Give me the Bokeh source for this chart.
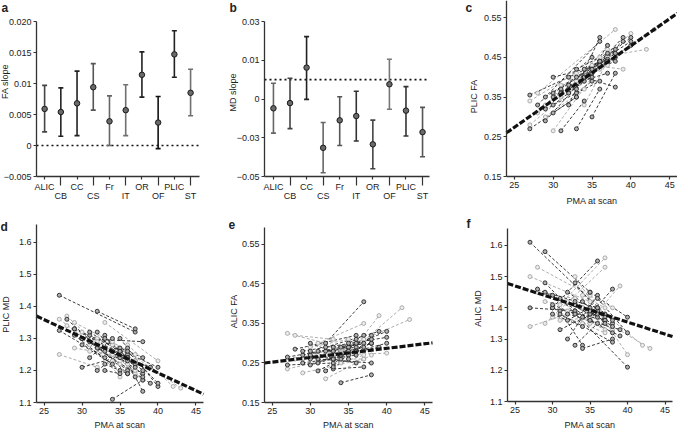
from bokeh.plotting import figure
from bokeh.layouts import row, column
from bokeh.models import Range1d, FixedTicker, Label, LinearAxis
from bokeh.embed import file_html
from bokeh.resources import INLINE
import math

FONT = "Liberation Sans"
TXT = "#222222"
AX = "#333333"

# ---------------- data: panels a, b ----------------
regions = ["ALIC", "CB", "CC", "CS", "Fr", "IT", "OR", "OF", "PLIC", "ST"]
cat_pos = [1, 2, 3, 4, 5, 6, 7, 8, 9, 10]

fa_slope = [0.0059, 0.0054, 0.0068, 0.0094, 0.0039, 0.0057, 0.0114, 0.0037, 0.0147, 0.0085]
fa_lo = [0.0022, 0.0015, 0.0016, 0.0057, 0.0000, 0.0016, 0.0078, -0.0005, 0.0110, 0.0048]
fa_hi = [0.0097, 0.0093, 0.0120, 0.0132, 0.0080, 0.0098, 0.0151, 0.0079, 0.0185, 0.0123]
fa_col = ["#444444", "#222222", "#222222", "#555555", "#666666", "#707070", "#222222", "#111111", "#222222", "#707070"]

md_slope = [-0.0148, -0.0121, 0.0062, -0.0352, -0.0210, -0.0188, -0.0334, -0.0024, -0.0160, -0.0271]
md_lo = [-0.0276, -0.0253, -0.0102, -0.0481, -0.0340, -0.0317, -0.0460, -0.0153, -0.0291, -0.0398]
md_hi = [-0.0019, 0.0007, 0.0222, -0.0221, -0.0088, -0.0060, -0.0209, 0.0105, -0.0036, -0.0143]
md_col = ["#666666", "#444444", "#222222", "#666666", "#555555", "#333333", "#444444", "#777777", "#333333", "#555555"]

fa_ticks = [-0.005, 0.0, 0.005, 0.01, 0.015, 0.02]
fa_tick_labels = ["\u22120.005", "0", "0.005", "0.01", "0.015", "0.020"]
md_ticks = [-0.05, -0.03, -0.01, 0.01, 0.03]
md_tick_labels = ["\u22120.05", "\u22120.03", "0", "0.01", "0.03"]

# ---------------- data: panels c-f (subjects, two scans each) ----------------
scan1 = [27, 27, 27, 28, 28, 29, 29, 29, 30, 30, 30, 31, 31, 31, 32, 32, 32, 33,
         33, 33, 34, 34, 34, 35, 35, 35, 36, 36, 30, 28, 32, 34, 27, 31, 33, 29,
         30, 31, 32, 33, 34, 35, 36, 29, 31, 33, 32, 34, 30, 35]
scan2 = [37, 35, 33, 36, 38, 35, 37, 40, 36, 35, 38, 36, 37, 34, 37, 38, 36, 37,
         40, 36, 38, 37, 43, 38, 40, 39, 40, 42, 34, 33, 35, 36, 32, 38, 35, 34,
         37, 35, 37, 38, 39, 37, 38, 36, 36, 38, 39, 37, 33, 37]
subj_shade = ["k", "g", "k", "k", "g", "k", "g", "k", "k", "g", "k", "k", "g", "k", "k", "g", "k", "k",
              "g", "k", "k", "g", "g", "k", "k", "g", "k", "g", "k", "g", "k", "k", "g", "k", "k", "g",
              "k", "k", "g", "k", "k", "g", "k", "k", "g", "k", "k", "g", "k", "k"]

plic_fa1 = [0.355, 0.28, 0.27, 0.33, 0.36, 0.29, 0.33, 0.35, 0.40, 0.265, 0.36, 0.37, 0.35, 0.265, 0.38, 0.36, 0.33, 0.42,
            0.39, 0.27, 0.40, 0.33, 0.40, 0.30, 0.41, 0.43, 0.44, 0.45, 0.33, 0.31, 0.40, 0.42, 0.34, 0.36, 0.36, 0.30,
            0.35, 0.36, 0.38, 0.37, 0.40, 0.41, 0.43, 0.32, 0.38, 0.40, 0.36, 0.39, 0.31, 0.42]
plic_fa2 = [0.445, 0.41, 0.35, 0.49, 0.52, 0.42, 0.45, 0.49, 0.43, 0.40, 0.46, 0.44, 0.48, 0.34, 0.41, 0.47, 0.50, 0.46,
            0.51, 0.37, 0.375, 0.44, 0.52, 0.41, 0.48, 0.42, 0.50, 0.47, 0.39, 0.41, 0.45, 0.44, 0.40, 0.45, 0.39, 0.37,
            0.44, 0.40, 0.47, 0.47, 0.49, 0.43, 0.46, 0.39, 0.42, 0.44, 0.50, 0.45, 0.35, 0.48]

plic_md1 = [1.435, 1.36, 1.325, 1.36, 1.34, 1.31, 1.35, 1.33, 1.21, 1.32, 1.30, 1.29, 1.26, 1.24, 1.385, 1.30, 1.20, 1.31,
            1.35, 1.22, 1.11, 1.28, 1.29, 1.27, 1.30, 1.24, 1.26, 1.28, 1.28, 1.37, 1.32, 1.26, 1.25, 1.31, 1.20, 1.27,
            1.30, 1.32, 1.29, 1.27, 1.26, 1.25, 1.24, 1.33, 1.28, 1.30, 1.27, 1.23, 1.30, 1.26]
plic_md2 = [1.32, 1.22, 1.24, 1.19, 1.17, 1.20, 1.25, 1.21, 1.25, 1.18, 1.29, 1.20, 1.23, 1.30, 1.33, 1.17, 1.27, 1.18,
            1.23, 1.19, 1.17, 1.23, 1.145, 1.135, 1.15, 1.21, 1.16, 1.15, 1.22, 1.26, 1.24, 1.23, 1.21, 1.24, 1.19, 1.25,
            1.22, 1.26, 1.20, 1.19, 1.21, 1.19, 1.18, 1.24, 1.22, 1.20, 1.16, 1.20, 1.26, 1.21]

alic_fa1 = [0.265, 0.235, 0.245, 0.285, 0.26, 0.27, 0.225, 0.28, 0.27, 0.29, 0.245, 0.25, 0.30, 0.23, 0.30, 0.21, 0.28, 0.235,
            0.27, 0.26, 0.20, 0.26, 0.285, 0.275, 0.29, 0.27, 0.28, 0.29, 0.30, 0.32, 0.23, 0.29, 0.325, 0.26, 0.24, 0.26,
            0.26, 0.28, 0.27, 0.29, 0.27, 0.26, 0.28, 0.25, 0.27, 0.28, 0.29, 0.25, 0.28, 0.30]
alic_fa2 = [0.30, 0.27, 0.25, 0.32, 0.31, 0.29, 0.26, 0.315, 0.25, 0.31, 0.30, 0.28, 0.35, 0.26, 0.405, 0.27, 0.29, 0.24,
            0.275, 0.30, 0.22, 0.28, 0.36, 0.30, 0.33, 0.37, 0.30, 0.39, 0.27, 0.31, 0.27, 0.31, 0.30, 0.25, 0.26, 0.275,
            0.29, 0.28, 0.31, 0.30, 0.29, 0.26, 0.32, 0.27, 0.29, 0.31, 0.33, 0.27, 0.26, 0.32]

alic_md1 = [1.61, 1.50, 1.40, 1.46, 1.53, 1.58, 1.35, 1.48, 1.40, 1.37, 1.44, 1.33, 1.41, 1.39, 1.45, 1.42, 1.30, 1.48,
            1.50, 1.28, 1.27, 1.44, 1.40, 1.38, 1.45, 1.36, 1.43, 1.40, 1.38, 1.45, 1.36, 1.42, 1.34, 1.38, 1.39, 1.42,
            1.40, 1.43, 1.39, 1.41, 1.37, 1.44, 1.40, 1.45, 1.36, 1.42, 1.38, 1.35, 1.41, 1.39]
alic_md2 = [1.38, 1.42, 1.39, 1.37, 1.40, 1.45, 1.53, 1.21, 1.55, 1.35, 1.32, 1.39, 1.56, 1.28, 1.37, 1.33, 1.44, 1.36,
            1.25, 1.35, 1.30, 1.40, 1.27, 1.46, 1.37, 1.47, 1.32, 1.28, 1.34, 1.43, 1.40, 1.38, 1.38, 1.29, 1.36, 1.40,
            1.36, 1.38, 1.33, 1.35, 1.31, 1.38, 1.36, 1.40, 1.37, 1.34, 1.33, 1.32, 1.38, 1.35]

fit_x = [24, 46]
plic_fa_fit = [0.26, 0.561]
plic_md_fit = [1.37, 1.126]
alic_fa_fit = [0.25, 0.301]
alic_md_fit = [1.478, 1.308]

pma_ticks = [25, 30, 35, 40, 45]
fa_val_ticks = [0.15, 0.25, 0.35, 0.45, 0.55]
md_val_ticks = [1.1, 1.2, 1.3, 1.4, 1.5, 1.6]

SHADE = {"k": "#262626", "g": "#a4a4a4"}
SHADE_FILL = {"k": "#b0b0b0", "g": "#ececec"}


# ---------------- geometry helper ----------------
class Geom:
    """Figure of W x H px whose plotting region (box L..R, T..B in px) shows xr x yr.
    The Bokeh frame covers the whole figure; axes sit at fixed locations on the region's edges."""

    def __init__(self, W, H, L, R, T, B, xr, yr):
        self.W, self.H, self.L, self.R, self.T, self.B = W, H, L, R, T, B
        self.xr, self.yr = xr, yr
        self.sx = (xr[1] - xr[0]) / float(R - L)
        self.sy = (yr[1] - yr[0]) / float(B - T)
        self.full_x = (xr[0] - L * self.sx, xr[1] + (W - R) * self.sx)
        self.full_y = (yr[0] - (H - B) * self.sy, yr[1] + T * self.sy)

    def X(self, fx):
        return self.xr[0] + (fx - self.L) * self.sx

    def Y(self, fy):
        return self.yr[1] - (fy - self.T) * self.sy


def make_fig(g, x_axis=True):
    kw = {}
    if not x_axis:
        kw["x_axis_type"] = None
    p = figure(width=g.W, height=g.H, x_range=Range1d(*g.full_x), y_range=Range1d(*g.full_y),
               output_backend="svg", toolbar_location=None,
               min_border_left=0, min_border_right=0, min_border_top=0, min_border_bottom=0, **kw)
    p.outline_line_color = None
    p.grid.visible = False
    p.background_fill_color = "white"
    p.border_fill_color = "white"
    return p


def style_axis(ax):
    ax.axis_line_color = AX
    ax.axis_line_width = 1.3
    ax.major_tick_line_color = AX
    ax.major_tick_line_width = 1.2
    ax.major_tick_out = 3
    ax.major_tick_in = 0
    ax.minor_tick_line_color = None
    ax.major_label_text_font = FONT
    ax.major_label_text_font_size = "9px"
    ax.major_label_text_color = TXT
    ax.major_label_standoff = 2


def put_text(p, g, txt, fx, fy, size="9px", bold=False, angle=0.0, align="center", baseline="middle"):
    p.add_layout(Label(x=g.X(fx), y=g.Y(fy), text=txt,
                       text_font=FONT, text_font_size=size, text_color=TXT,
                       text_font_style="bold" if bold else "normal",
                       text_align=align, text_baseline=baseline, angle=angle))


def slope_panel(g, vals, lo, hi, cols, ticks, tick_labels, letter, ylab, ylab_y):
    p = make_fig(g, x_axis=False)
    yax = p.yaxis[0]
    style_axis(yax)
    yax.ticker = FixedTicker(ticks=ticks)
    yax.major_label_overrides = {t: s for t, s in zip(ticks, tick_labels)}
    yax.fixed_location = g.xr[0]
    yax.bounds = g.yr

    odd = [c for i, c in enumerate(cat_pos) if i % 2 == 0]
    even = [c for i, c in enumerate(cat_pos) if i % 2 == 1]
    ax1 = LinearAxis(ticker=FixedTicker(ticks=odd),
                     major_label_overrides={c: regions[c - 1] for c in odd})
    style_axis(ax1)
    ax1.fixed_location = g.yr[0]
    ax1.bounds = g.xr
    ax2 = LinearAxis(ticker=FixedTicker(ticks=even),
                     major_label_overrides={c: regions[c - 1] for c in even})
    style_axis(ax2)
    ax2.axis_line_color = None
    ax2.major_tick_out = 9
    ax2.major_label_standoff = 5
    ax2.fixed_location = g.yr[0]
    ax2.bounds = g.xr
    p.add_layout(ax1, "below")
    p.add_layout(ax2, "below")

    # dotted zero reference line across the plotting region
    p.segment(x0=[g.xr[0]], y0=[0], x1=[g.xr[1]], y1=[0], line_color="#111111", line_width=1.6, line_dash="2 3")
    p.segment(x0=cat_pos, y0=lo, x1=cat_pos, y1=hi, line_color=cols, line_width=1.6)
    p.scatter(x=cat_pos, y=lo, marker="dash", size=5, line_color=cols, line_width=1.6)
    p.scatter(x=cat_pos, y=hi, marker="dash", size=5, line_color=cols, line_width=1.6)
    p.scatter(x=cat_pos, y=vals, marker="circle", size=5.5, fill_color="#6a6a6a", line_color="#1a1a1a", line_width=1)

    put_text(p, g, letter, 1, 0, size="12px", bold=True, align="left", baseline="top")
    put_text(p, g, ylab, 4, ylab_y, angle=math.pi / 2)
    return p


def spaghetti_panel(g, v1, v2, fit, yticks, letter, lx, ly, ylab, ylab_x, ylab_y, xlab_y):
    p = make_fig(g)
    xax = p.xaxis[0]
    yax = p.yaxis[0]
    style_axis(xax)
    style_axis(yax)
    xax.ticker = FixedTicker(ticks=pma_ticks)
    yax.ticker = FixedTicker(ticks=yticks)
    xax.fixed_location = g.yr[0]
    xax.bounds = g.xr
    yax.fixed_location = g.xr[0]
    yax.bounds = g.yr

    xs = [[a, b] for a, b in zip(scan1, scan2)]
    ys = [[a, b] for a, b in zip(v1, v2)]
    order = sorted(range(len(xs)), key=lambda i: 0 if subj_shade[i] == "g" else 1)
    p.multi_line(xs=[xs[i] for i in order], ys=[ys[i] for i in order],
                 line_color=[SHADE[subj_shade[i]] for i in order], line_width=0.9, line_dash="3 2")
    px = [x for i in order for x in xs[i]]
    py = [y for i in order for y in ys[i]]
    pc = [SHADE[subj_shade[i]] for i in order for _ in range(2)]
    pf = [SHADE_FILL[subj_shade[i]] for i in order for _ in range(2)]
    p.scatter(x=px, y=py, marker="circle", size=4, line_color=pc, fill_color=pf, line_width=0.9)

    p.line(x=fit_x, y=fit, line_color="#111111", line_width=3.2, line_dash="6 2")

    put_text(p, g, letter, lx, ly, size="12px", bold=True, align="left", baseline="top")
    put_text(p, g, ylab, ylab_x, ylab_y, angle=math.pi / 2)
    put_text(p, g, "PMA at scan", (g.L + g.R) / 2.0, xlab_y)
    return p


# ---------------- panels ----------------
ga = Geom(228, 207, 36, 199, 21, 176, (0.5, 10.55), (-0.005, 0.020))
gb = Geom(228, 207, 36, 201, 21, 176, (0.46, 10.42), (-0.05, 0.03))
gc = Geom(221, 207, 50, 221, 0, 176, (24, 46), (0.15, 0.593))
gd = Geom(228, 223, 36, 203, 17, 195, (24, 46), (1.1, 1.656))
ge = Geom(228, 223, 36, 204, 20, 195, (24, 46), (0.15, 0.593))
gf = Geom(221, 223, 51, 216, 21, 194, (24, 46), (1.1, 1.654))

pa = slope_panel(ga, fa_slope, fa_lo, fa_hi, fa_col, fa_ticks, fa_tick_labels, "a", "FA slope", 81)
pb = slope_panel(gb, md_slope, md_lo, md_hi, md_col, md_ticks, md_tick_labels, "b", "MD slope", 92)
pc = spaghetti_panel(gc, plic_fa1, plic_fa2, plic_fa_fit, fa_val_ticks, "c", 9, 0, "PLIC FA", 17, 96, 200)
pd = spaghetti_panel(gd, plic_md1, plic_md2, plic_md_fit, md_val_ticks, "d", 0, 12, "PLIC MD", 5, 107, 217)
pe = spaghetti_panel(ge, alic_fa1, alic_fa2, alic_fa_fit, fa_val_ticks, "e", 0, 12, "ALIC FA", 5, 104, 217)
pf = spaghetti_panel(gf, alic_md1, alic_md2, alic_md_fit, md_val_ticks, "f", 10, 9, "ALIC MD", 21, 101, 217)

layout = column(row(pa, pb, pc, spacing=0), row(pd, pe, pf, spacing=0), spacing=0)

open("out.html", "w").write(file_html(layout, INLINE))
